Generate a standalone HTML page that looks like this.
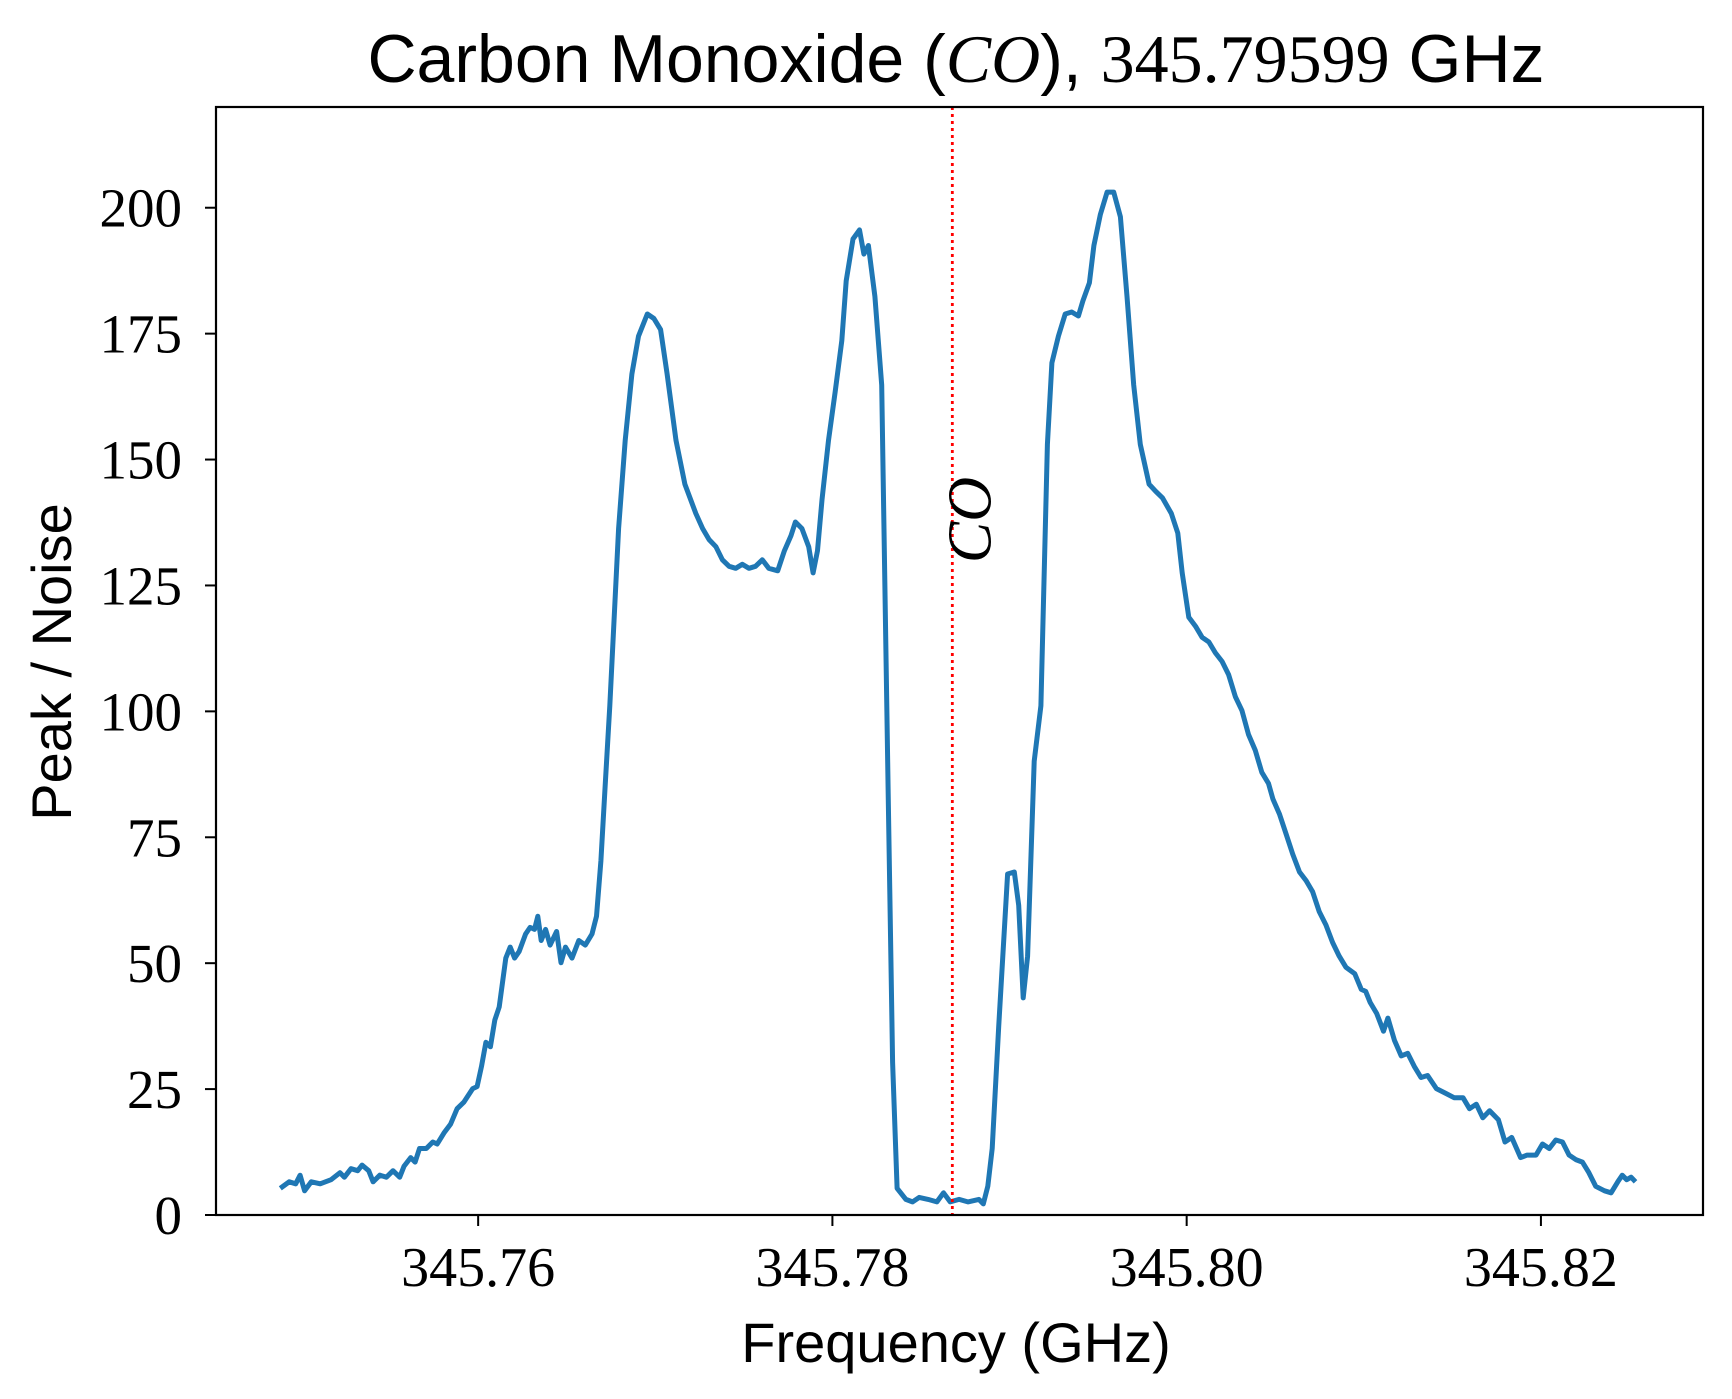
<!DOCTYPE html>
<html><head><meta charset="utf-8"><style>
html,body{margin:0;padding:0;background:#fff;}
svg{display:block;}
</style></head><body>
<svg id="chart" width="1732" height="1399" viewBox="0 0 1732 1399" xmlns="http://www.w3.org/2000/svg">
<rect width="1732" height="1399" fill="#fff"/>
<text x="956" y="82" text-anchor="middle" font-family="Liberation Sans, sans-serif" font-size="68">Carbon Monoxide (<tspan font-family="Liberation Serif, serif" font-style="italic">CO</tspan>), <tspan font-family="Liberation Serif, serif">345.79599</tspan> GHz</text>
<g id="plot"></g>
<text x="956" y="1362" text-anchor="middle" font-family="Liberation Sans, sans-serif" font-size="56">Frequency (GHz)</text>
<text transform="translate(71,662) rotate(-90)" text-anchor="middle" font-family="Liberation Sans, sans-serif" font-size="56">Peak / Noise</text>
</svg>
<script>
// frequency offsets from 345.76 GHz, in MHz
const freqOffsetMHz = [-11.17,-10.67,-10.30,-10.05,-9.80,-9.42,-8.92,-8.30,-7.80,-7.55,-7.18,-6.80,-6.55,-6.18,-5.93,-5.55,-5.18,-4.81,-4.43,-4.18,-3.81,-3.56,-3.31,-2.93,-2.56,-2.31,-1.93,-1.56,-1.19,-0.81,-0.31,-0.06,0.19,0.44,0.69,0.94,1.19,1.56,1.81,2.06,2.31,2.68,2.93,3.18,3.37,3.56,3.81,4.06,4.43,4.68,4.93,5.30,5.68,6.05,6.43,6.68,6.93,7.18,7.43,7.93,8.30,8.68,9.05,9.55,9.92,10.30,10.67,11.17,11.67,12.29,12.67,13.04,13.42,13.79,14.17,14.54,14.91,15.29,15.66,16.04,16.41,16.91,17.29,17.66,17.91,18.28,18.66,18.91,19.16,19.41,19.78,20.16,20.53,20.78,21.16,21.53,21.78,22.03,22.40,22.78,23.15,23.40,23.65,24.15,24.52,24.90,25.40,25.90,26.27,26.65,27.15,27.65,28.27,28.52,28.77,29.02,29.39,29.89,30.27,30.52,30.77,31.02,31.39,31.77,32.14,32.39,32.76,33.14,33.51,33.89,34.14,34.51,34.76,35.13,35.51,35.88,36.26,36.63,37.01,37.38,37.88,38.25,38.63,39.13,39.50,39.75,40.12,40.50,40.87,41.25,41.62,42.00,42.37,42.75,43.12,43.49,43.87,44.24,44.62,44.87,45.24,45.62,45.99,46.37,46.74,47.11,47.49,47.86,48.24,48.61,48.99,49.49,49.86,50.11,50.36,50.73,51.11,51.36,51.73,52.11,52.48,52.85,53.23,53.60,54.10,54.60,55.10,55.60,55.97,56.35,56.72,57.10,57.60,57.97,58.35,58.85,59.22,59.72,60.09,60.47,60.84,61.22,61.59,61.97,62.34,62.71,63.09,63.59,63.96,64.34,64.59,64.84,65.09,65.34];
const peakNoise = [5.3,6.6,6.2,7.9,4.8,6.6,6.2,7.0,8.4,7.5,9.2,8.8,9.9,8.8,6.6,7.9,7.5,8.8,7.5,9.7,11.4,10.5,13.2,13.2,14.5,14.1,16.3,18.0,21.1,22.4,25.1,25.5,29.5,34.3,33.4,38.7,41.3,51.0,53.2,51.0,52.3,55.8,57.1,56.7,59.3,54.5,56.7,53.6,56.3,50.1,53.2,51.0,54.5,53.6,55.8,59.3,70.3,85.7,101.1,136.3,153.8,167.0,174.5,178.9,178.0,175.8,167.0,153.8,145.1,139.3,136.3,134.1,132.7,130.1,128.8,128.4,129.2,128.4,128.8,130.1,128.4,127.9,131.9,134.9,137.6,136.3,132.7,127.5,131.9,142.0,153.8,163.5,173.6,185.5,193.8,195.6,190.8,192.5,182.4,164.8,83.5,30.3,5.3,3.1,2.6,3.5,3.1,2.6,4.4,2.6,3.1,2.6,3.1,2.2,5.7,13.2,37.4,67.7,68.1,61.5,43.1,51.4,90.1,101.1,153.0,169.2,174.5,178.9,179.3,178.5,181.5,185.1,192.5,198.7,203.1,203.1,198.2,182.4,164.8,153.0,145.1,143.7,142.4,139.3,135.4,127.5,118.7,116.9,114.7,113.8,111.6,109.9,107.3,102.9,100.2,95.4,92.3,87.9,85.7,82.6,79.6,75.6,71.6,68.1,66.4,64.2,60.2,57.6,54.1,51.4,49.2,47.9,44.8,44.4,42.2,40.0,36.5,39.1,34.7,31.6,32.1,29.5,27.3,27.7,25.1,24.2,23.3,23.3,21.1,22.0,19.3,20.7,18.9,14.5,15.4,11.4,11.9,11.9,14.1,13.2,14.9,14.5,11.9,11.0,10.5,8.4,5.7,4.8,4.4,6.6,7.9,7.0,7.5,6.6];
const xTicks = [345.76, 345.78, 345.80, 345.82];
const xTickLabels = ["345.76", "345.78", "345.80", "345.82"];
const yTicks = [0, 25, 50, 75, 100, 125, 150, 175, 200];
const yTickLabels = ["0", "25", "50", "75", "100", "125", "150", "175", "200"];
const lineFreq = [345.78677];
const lineLabel = ["CO"];

const L=216, R=1703, T=107, B=1215;
const xMin=345.7452, xMax=345.82915, yMin=0, yMax=220;
function xs(f){return L+(f-xMin)/(xMax-xMin)*(R-L);}
function ys(v){return B-(v-yMin)/(yMax-yMin)*(B-T);}
const NS="http://www.w3.org/2000/svg";
const g=document.getElementById('plot');
function mk(tag,attrs,parent){const e=document.createElementNS(NS,tag);for(const k in attrs)e.setAttribute(k,attrs[k]);(parent||g).appendChild(e);return e;}

let d="";
for(let i=0;i<freqOffsetMHz.length;i++){
  const f=345.76+freqOffsetMHz[i]/1000;
  d+=(i?"L":"M")+xs(f).toFixed(1)+","+ys(peakNoise[i]).toFixed(1);
}
const path=mk('path',{d:d,fill:'none',stroke:'#1f77b4','stroke-width':5,'stroke-linejoin':'round'});



lineFreq.forEach((f,i)=>{
  const ln=mk('line',{x1:xs(f),x2:xs(f),y1:T,y2:B,stroke:'#ff0000','stroke-width':2.8,'stroke-dasharray':'3,4'});
  
  
  const t=mk('text',{transform:`translate(${xs(f)+38},520) rotate(-90)`,'text-anchor':'middle','font-family':'Liberation Serif, serif','font-style':'italic','font-size':62});
  t.textContent=lineLabel[i];
  
  
});

const fr=mk('rect',{x:L,y:T,width:R-L,height:B-T,fill:'none',stroke:'#000','stroke-width':2.2});



xTicks.forEach((v,i)=>{
  const x=xs(v);
  const tk=mk('line',{x1:x,x2:x,y1:B,y2:B+11,stroke:'#000','stroke-width':2});
  
  
  const t=mk('text',{x:x,y:B+71,'text-anchor':'middle','font-family':'Liberation Serif, serif','font-size':56});
  t.textContent=xTickLabels[i];
  
  
});
yTicks.forEach((v,i)=>{
  const y=ys(v);
  const tk=mk('line',{x1:L-11,x2:L,y1:y,y2:y,stroke:'#000','stroke-width':2});
  
  
  const t=mk('text',{x:L-34,y:y+19,'text-anchor':'end','font-family':'Liberation Serif, serif','font-size':55});
  t.textContent=yTickLabels[i];
  
  
});
</script>
</body></html>
